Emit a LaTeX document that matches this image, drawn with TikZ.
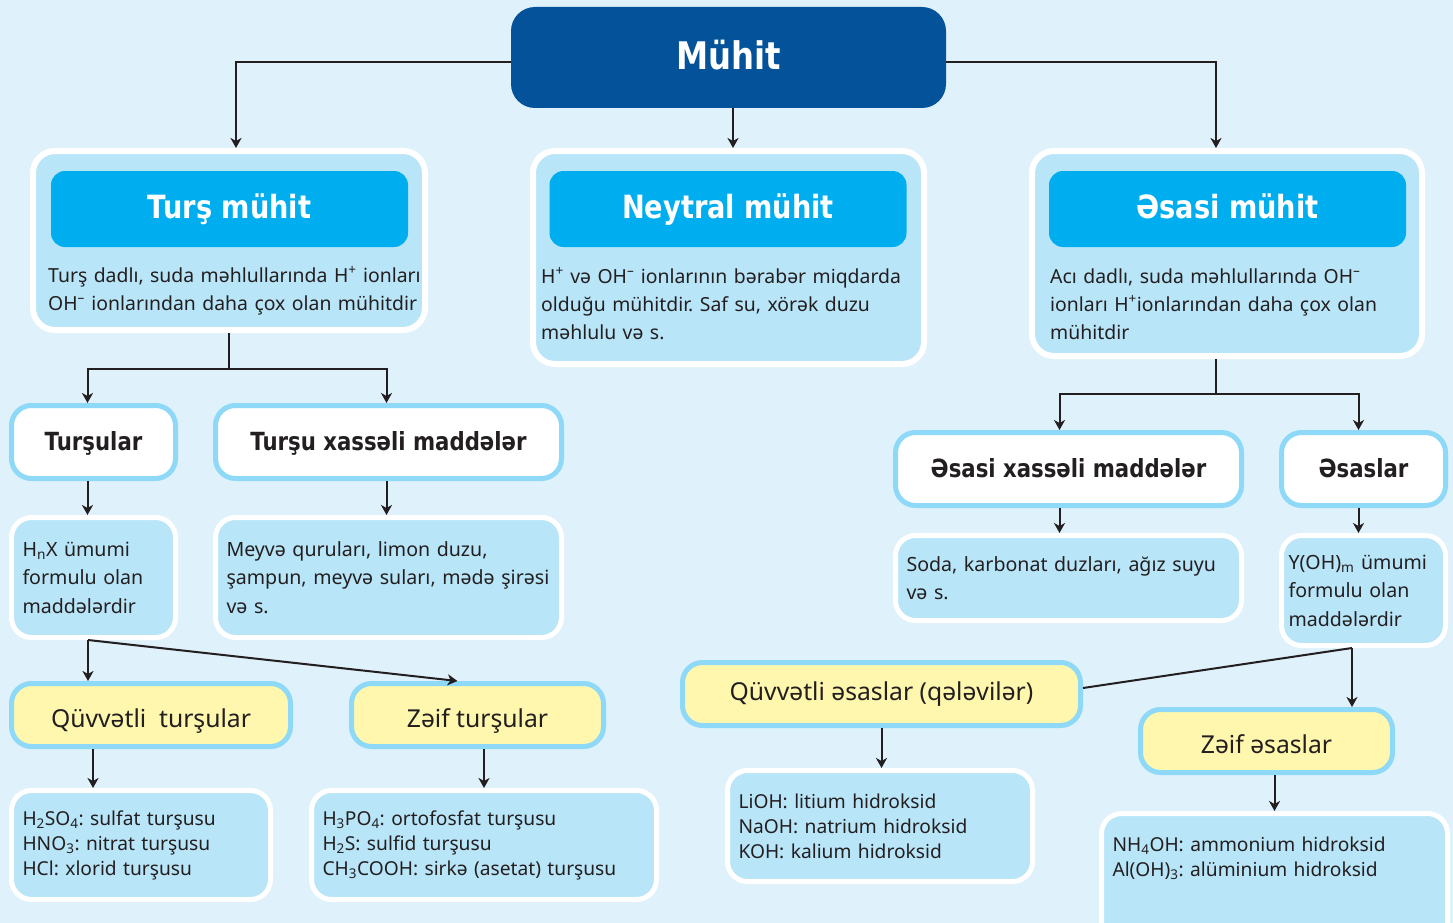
\documentclass[tikz,border=0pt]{standalone}
\usepackage{fontspec}
\setmainfont{Noto Sans}
\newfontfamily\headfont[FakeStretch=0.85]{DejaVu Sans Bold}
\usepackage{tikz}
\usetikzlibrary{arrows.meta}
\definecolor{bgblue}{HTML}{DFF1FB}
\definecolor{navy}{HTML}{03529A}
\definecolor{cyanblue}{HTML}{00AEEF}
\definecolor{paleblue}{HTML}{B9E5F8}
\definecolor{skyline}{HTML}{8ED8F8}
\definecolor{lemon}{HTML}{FFF7AD}
\definecolor{ink}{HTML}{231F20}
\frenchspacing

\begin{document}
\begin{tikzpicture}[x=1pt,y=-1pt,
    mainbox/.style={fill=navy, rounded corners=24pt, text=white, minimum width=435, minimum height=101,
      text height=27pt, text depth=2pt, font=\headfont\fontsize{38}{44}\selectfont},
    envbox/.style={fill=paleblue, draw=white, line width=6pt, rounded corners=22pt},
    headbox/.style={fill=cyanblue, rounded corners=14pt, text=white, minimum width=357, minimum height=76,
      text height=22pt, text depth=4pt, font=\headfont\fontsize{32}{36}\selectfont},
    descr/.style={anchor=base west, inner sep=0pt, align=left, text=ink, font=\fontsize{19.4}{28}\selectfont},
    catbox/.style={fill=white, draw=skyline, line width=5pt, rounded corners=20pt, text=ink, minimum height=73,
      text height=20pt, text depth=4pt, font=\headfont\fontsize{25}{28}\selectfont},
    infobox/.style={fill=paleblue, draw=white, line width=5pt, rounded corners=20pt, align=left, inner xsep=11pt,
      text=ink, font=\fontsize{19.6}{28.5}\selectfont},
    kindbox/.style={fill=lemon, draw=skyline, line width=5pt, rounded corners=20pt, text=ink, minimum height=63,
      text height=26pt, text depth=2pt, font=\fontsize{24.7}{30}\selectfont},
    listbox/.style={infobox, font=\fontsize{19.2}{25}\selectfont},
    link/.style={line width=2pt, ink},
    arr/.style={link, -{Stealth[length=10pt,width=11pt,inset=3pt]}}]

  \useasboundingbox (0,0) rectangle (1453,923);
  \fill[bgblue] (0,0) rectangle (1453,923);

  \node[mainbox] (muhit) at (728.5,57.5) {Mühit};

  \node[envbox, minimum width=392, minimum height=179] (turs) at (229,240.5) {};
  \node[headbox] (tursh) at (229.5,209) {Turş mühit};
  \node[descr, text width=380] (tursd) at (48,282)
    {Turş dadlı, suda məhlullarında H\textsuperscript{+} ionları\\OH\textsuperscript{–} ionlarından daha çox olan mühitdir};

  \node[envbox, minimum width=391, minimum height=213] (neyt) at (728.5,257.5) {};
  \node[headbox] (neyth) at (728,209) {Neytral mühit};
  \node[descr, text width=380] (neytd) at (541,283)
    {H\textsuperscript{+} və OH\textsuperscript{–} ionlarının bərabər miqdarda\\olduğu mühitdir. Saf su, xörək duzu\\məhlulu və s.};

  \node[envbox, minimum width=390, minimum height=205] (esas) at (1227,253.5) {};
  \node[headbox] (esash) at (1227.5,209) {Əsasi mühit};
  \node[descr, text width=370] (esasd) at (1050,283)
    {Acı dadlı, suda məhlullarında OH\textsuperscript{–}\\ionları H\textsuperscript{+}ionlarından daha çox olan\\mühitdir};

  \node[catbox, minimum width=164] (tursular) at (93.5,442) {Turşular};
  \node[catbox, minimum width=346] (txm) at (388.5,442) {Turşu xassəli maddələr};
  \node[catbox, minimum width=346] (exm) at (1068.5,469) {Əsasi xassəli maddələr};
  \node[catbox, minimum width=164] (esaslar) at (1363.5,469) {Əsaslar};

  \node[infobox, minimum width=164, minimum height=120, text width=142] (hnx) at (93.5,577.5)
    {H\textsubscript{n}X ümumi\\formulu olan\\maddələrdir};
  \node[infobox, minimum width=346, minimum height=120, text width=324] (meyve) at (388.5,577.5)
    {Meyvə quruları, limon duzu,\\şampun, meyvə suları, mədə şirəsi\\və s.};
  \node[infobox, minimum width=346, minimum height=85, text width=324] (soda) at (1068.5,578)
    {Soda, karbonat duzları, ağız suyu\\və s.};
  \node[infobox, minimum width=164, minimum height=110, text width=150, inner xsep=5pt] (yoh) at (1363.5,590.5)
    {Y(OH)\textsubscript{m} ümumi\\formulu olan\\maddələrdir};

  \node[kindbox, minimum width=279] (qt) at (151,715) {Qüvvətli\ \ turşular};
  \node[kindbox, minimum width=252] (zt) at (477.5,715) {Zəif turşular};
  \node[kindbox, minimum width=398, text depth=14pt] (qe) at (881.5,694) {Qüvvətli əsaslar (qələvilər)};
  \node[kindbox, minimum width=252] (ze) at (1266.5,741) {Zəif əsaslar};

  \node[listbox, minimum width=259, minimum height=109, text width=237] (h2so4) at (141,845)
    {H\textsubscript{2}SO\textsubscript{4}: sulfat turşusu\\HNO\textsubscript{3}: nitrat turşusu\\HCl: xlorid turşusu};
  \node[listbox, minimum width=345, minimum height=109, text width=323] (h3po4) at (484,845)
    {H\textsubscript{3}PO\textsubscript{4}: ortofosfat turşusu\\H\textsubscript{2}S: sulfid turşusu\\CH\textsubscript{3}COOH: sirkə (asetat) turşusu};
  \node[listbox, minimum width=305, minimum height=111, text width=283] (lioh) at (880,826)
    {LiOH: litium hidroksid\\NaOH: natrium hidroksid\\KOH: kalium hidroksid};
  \node[listbox, anchor=north, minimum width=346, text width=324, inner ysep=23pt, text depth=70pt] (nh4oh) at (1274.5,811)
    {NH\textsubscript{4}OH: ammonium hidroksid\\Al(OH)\textsubscript{3}: alüminium hidroksid};

  \draw[arr] ([yshift=-4.5]muhit.west) -| ([xshift=7]turs.north);
  \draw[arr] ([yshift=-4.5]muhit.east) -| ([xshift=-11]esas.north);
  \draw[arr] ([xshift=4.5]muhit.south) -- ([xshift=4.5]muhit.south |- neyt.north);

  \draw[link] (turs.south) -- ++(0,36) coordinate (tursj);
  \draw[arr] (tursj) -| ([xshift=-6]tursular.north);
  \draw[arr] (tursj) -| ([xshift=-2]txm.north);
  \draw[link] ([xshift=-11]esas.south) -- ++(0,35) coordinate (esasj);
  \draw[arr] (esasj) -| ([xshift=-9]exm.north);
  \draw[arr] (esasj) -| ([xshift=-5]esaslar.north);

  \draw[arr] ([xshift=-6]tursular.south) -- ([xshift=-6]tursular.south |- hnx.north);
  \draw[arr] ([xshift=-2]txm.south) -- ([xshift=-2]txm.south |- meyve.north);
  \draw[arr] ([xshift=-9]exm.south) -- ([xshift=-9]exm.south |- soda.north);
  \draw[arr] ([xshift=-5]esaslar.south) -- ([xshift=-5]esaslar.south |- yoh.north);

  \draw[arr] ([xshift=-5.5]hnx.south) -- ([xshift=-5.5]hnx.south |- qt.north);
  \draw[arr] ([xshift=-5.5]hnx.south) -- ([xshift=-20]zt.north);
  \draw[link] ([xshift=-11.5]yoh.south) -- ([yshift=6]qe.east);
  \draw[arr] ([xshift=-11.5]yoh.south) -- ([xshift=-11.5]yoh.south |- ze.north);

  \draw[arr] ([xshift=-58]qt.south) -- ([xshift=-58]qt.south |- h2so4.north);
  \draw[arr] (zt.south -| h3po4.north) -- (h3po4.north);
  \draw[arr] (qe.south) -- (qe.south |- lioh.north);
  \draw[arr] (ze.south -| nh4oh.north) -- (nh4oh.north);
\end{tikzpicture}
\end{document}
